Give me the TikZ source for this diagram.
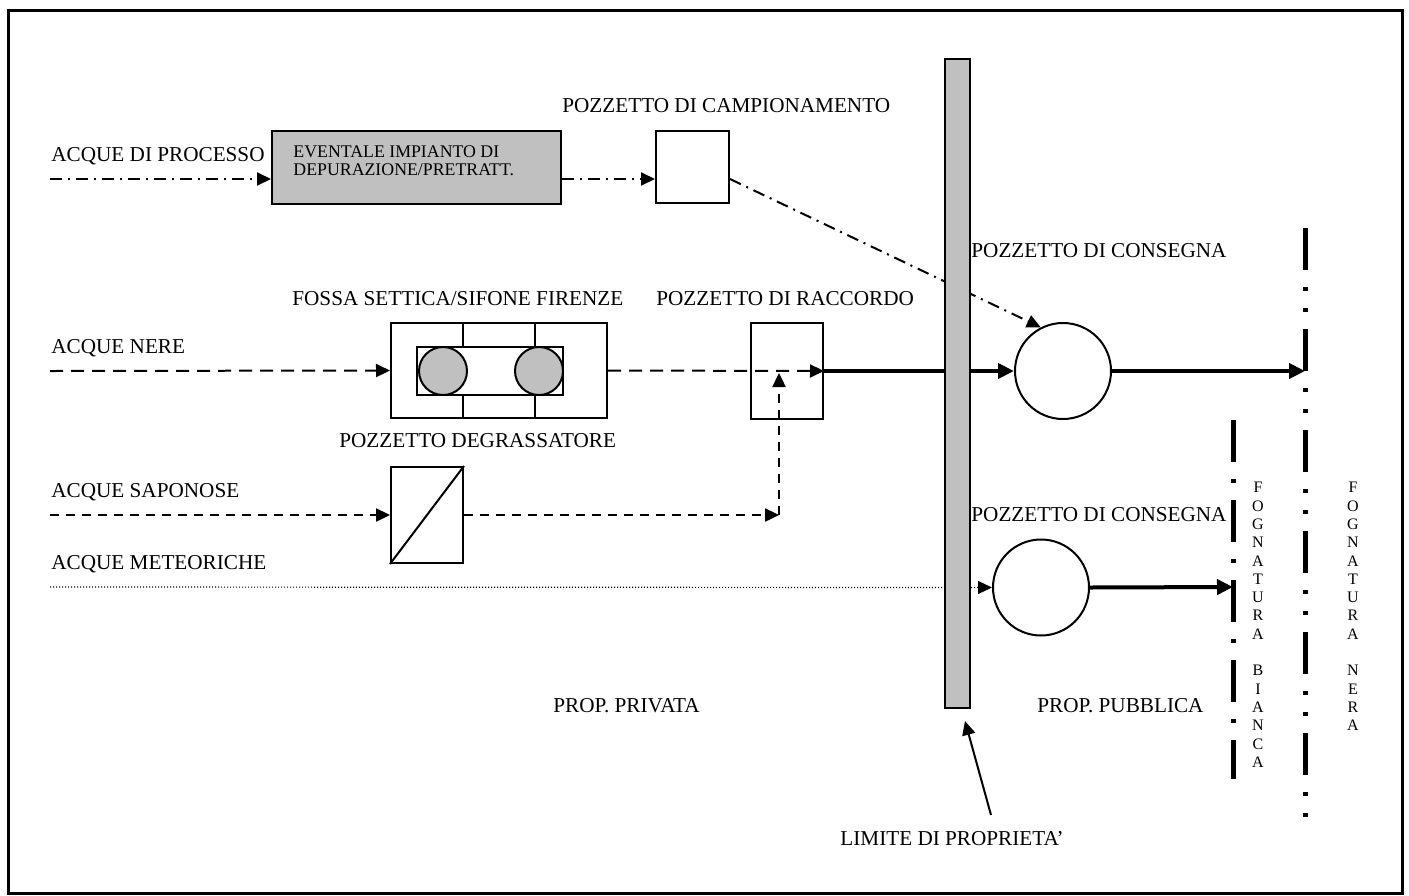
\documentclass[tikz,border=0pt]{standalone}
\usepackage{fontspec}
\setmainfont{Liberation Serif}
\usetikzlibrary{arrows.meta,calc}
\definecolor{tankgray}{RGB}{192,192,192}

\begin{document}
\begin{tikzpicture}[x=0.5pt,y=-0.5pt,
    >={Triangle[length=7pt,width=6.5pt]},
    lbl/.style={anchor=base west,inner sep=0pt,font=\fontsize{10.6}{12}\selectfont},
    tank/.style={draw,line width=1pt,inner sep=0pt},
    well/.style={circle,draw,line width=1pt,minimum size=48pt,inner sep=0pt},
    dashdot/.style={line width=1pt,dash pattern=on 6pt off 3pt on 1pt off 3pt},
    longdash/.style={line width=1pt,dash pattern=on 6.5pt off 4pt},
    shortdash/.style={line width=1.2pt,dash pattern=on 4.5pt off 3.5pt},
    dots/.style={line width=0.6pt,dash pattern=on 0.6pt off 0.9pt},
    main/.style={line width=2pt,-{Triangle[length=8pt,width=7.5pt]}},
    sewer/.style={line width=2.5pt},
    letters/.style={anchor=north,align=center,inner sep=0pt,font=\fontsize{8}{9.15}\selectfont}]
  \useasboundingbox (0,0) rectangle (1409,895);
  \draw[line width=1.5pt] (8,10) rectangle (1402,893);

  % impianti
  \node[tank,fill=tankgray,minimum width=144.5pt,minimum height=36.5pt] (depur) at (416.5,167.5) {};
  \node[tank,minimum width=36.5pt,minimum height=36pt] (camp) at (692.5,167) {};
  \node[tank,minimum width=108pt,minimum height=47.5pt] (fossa) at (499,370.5) {};
  \node[tank,minimum width=36pt,minimum height=48pt] (racc) at (787,371) {};
  \node[tank,minimum width=36pt,minimum height=48pt] (degr) at (427,515) {};
  \node[well] (cons1) at (1063,371) {};
  \node[well] (cons2) at (1041,587.5) {};

  \draw[line width=1pt] (417,347) rectangle (563,395);
  \draw[line width=1pt] (463,323) -- (463,347) (463,395) -- (463,418)
    (535,323) -- (535,347) (535,395) -- (535,418);
  \draw[line width=1pt,fill=tankgray] (443,371) circle[radius=12pt] (539,371) circle[radius=12pt];
  \draw[line width=1pt] (degr.south west) -- (degr.north east);

  \node[anchor=base west,inner sep=0pt,align=left,font=\fontsize{8.9}{9}\selectfont] (depurtxt) at (293,175)
    {EVENTALE IMPIANTO DI\\DEPURAZIONE/PRETRATT.};

  % scarichi
  \coordinate (proc) at (50,179);
  \coordinate (nere) at (50,371);
  \coordinate (sapo) at (50,515);
  \coordinate (meteo) at (50,587);
  \coordinate (sapcorner) at (779,515);
  \coordinate (sapup) at (779,373);
  \coordinate (bianca top) at (1233,420);
  \coordinate (bianca bot) at (1233,779);
  \coordinate (nera top) at (1305,228);
  \coordinate (nera bot) at (1305,818);
  \coordinate (limtail) at (991,815);
  \coordinate (limtip) at (965,721);

  \draw[dashdot,->] (proc) -- (proc -| depur.west);
  \draw[dashdot,->] (proc -| depur.east) -- (proc -| camp.west);
  \draw[dashdot,->] (proc -| camp.east) -- (cons1.117);
  \draw[longdash,->] (nere) -- (fossa.west);
  \draw[longdash,->] (fossa.east) -- (racc.east);
  \draw[main] (racc.east) -- (cons1.west);
  \draw[main] (cons1.east) -- (nere -| nera top);
  \draw[shortdash,->] (sapo) -- (degr.west);
  \draw[shortdash,->] (degr.east) -- (sapcorner);
  \draw[shortdash,->] (sapcorner) -- (sapup);
  \draw[dots,->] (meteo) -- (cons2.west);
  \draw[main] (cons2.east) -- (meteo -| bianca top);

  % limite di proprieta'
  \node[tank,fill=tankgray,minimum width=12.5pt,minimum height=324.5pt] (limit) at (957.5,383.5) {};
  \draw[line width=1pt,->] (limtail) -- (limtip);

  % fognature
  \draw[sewer,dash pattern=on 21pt off 8.5pt on 2pt off 8.5pt] (bianca top) -- (bianca bot);
  \draw[sewer,dash pattern=on 21pt off 8.5pt on 2pt off 8.5pt on 2pt off 8.5pt] (nera top) -- (nera bot);
  \node[letters] (fbianca) at (1258,482) {F\\O\\G\\N\\A\\T\\U\\R\\A\\[9.15pt]B\\I\\A\\N\\C\\A};
  \node[letters] (fnera) at (1353,482) {F\\O\\G\\N\\A\\T\\U\\R\\A\\[9.15pt]N\\E\\R\\A};

  % etichette
  \node[lbl] (lproc) at (51,161) {ACQUE DI PROCESSO};
  \node[lbl] (lnere) at (51,353) {ACQUE NERE};
  \node[lbl] (lsapo) at (51,497) {ACQUE SAPONOSE};
  \node[lbl] (lmeteo) at (51,569) {ACQUE METEORICHE};
  \node[lbl] (lcamp) at (562,112) {POZZETTO DI CAMPIONAMENTO};
  \node[lbl] (lfossa) at (292,305) {FOSSA SETTICA/SIFONE FIRENZE};
  \node[lbl] (lracc) at (656,305) {POZZETTO DI RACCORDO};
  \node[lbl] (ldegr) at (339,447) {POZZETTO DEGRASSATORE};
  \node[lbl] (lcons1) at (971,257) {POZZETTO DI CONSEGNA};
  \node[lbl] (lcons2) at (971,521) {POZZETTO DI CONSEGNA};
  \node[lbl] (lpriv) at (553,712) {PROP. PRIVATA};
  \node[lbl] (lpubb) at (1037,712) {PROP. PUBBLICA};
  \node[lbl] (llimit) at (840,845) {LIMITE DI PROPRIETA'};
\end{tikzpicture}
\end{document}
